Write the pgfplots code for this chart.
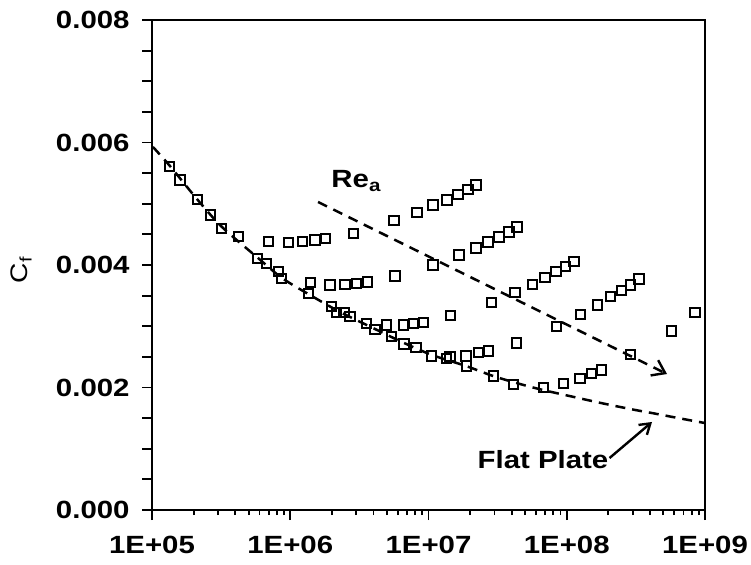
\documentclass[border=0pt]{standalone}
\usepackage{pgfplots}
\pgfplotsset{compat=1.18}
\usepackage{pgfplotstable}
\usepackage{fontspec}
\setmainfont{Liberation Sans}[FakeStretch=1.18]
\usetikzlibrary{arrows.meta}

\pgfplotstableread{
x y
1.334e5 0.005605
1.594e5 0.005388
2.127e5 0.005073
2.658e5 0.004816
3.193e5 0.004599
4.238e5 0.004462
5.777e5 0.004110
6.755e5 0.004028
8.196e5 0.003891
8.673e5 0.003783
6.937e5 0.004381
9.680e5 0.004371
1.223e6 0.004381
1.510e6 0.004408
1.805e6 0.004436
1.351e6 0.003538
1.406e6 0.003711
1.939e6 0.003674
2.489e6 0.003685
3.025e6 0.003701
3.608e6 0.003723
2.858e6 0.004518
5.629e6 0.004723
8.256e6 0.004861
1.078e7 0.004980
1.361e7 0.005061
1.635e7 0.005154
1.931e7 0.005236
2.206e7 0.005306
5.723e6 0.003821
1.078e7 0.004000
1.662e7 0.004163
2.206e7 0.004278
2.694e7 0.004376
3.236e7 0.004457
3.822e7 0.004539
4.367e7 0.004621
1.447e7 0.003172
2.866e7 0.003385
4.223e7 0.003548
5.634e7 0.003685
6.961e7 0.003799
8.363e7 0.003891
9.827e7 0.003972
1.129e8 0.004054
1.995e6 0.003319
2.168e6 0.003221
2.448e6 0.003228
2.705e6 0.003156
3.573e6 0.003048
4.102e6 0.002950
4.985e6 0.003020
5.418e6 0.002830
6.572e6 0.003020
7.765e6 0.003048
9.172e6 0.003065
6.649e6 0.002710
8.121e6 0.002653
1.055e7 0.002514
1.354e7 0.002477
1.431e7 0.002503
1.867e7 0.002514
1.889e7 0.002351
2.292e7 0.002575
2.708e7 0.002596
4.345e7 0.002727
2.942e7 0.002188
4.106e7 0.002052
6.768e7 0.001997
9.443e7 0.002069
1.247e8 0.002150
1.515e8 0.002232
1.790e8 0.002286
8.460e7 0.002993
1.262e8 0.003195
1.663e8 0.003347
2.079e8 0.003483
2.498e8 0.003581
2.901e8 0.003674
3.332e8 0.003772
2.891e8 0.002539
5.743e8 0.002922
8.467e8 0.003228
}\measured

\pgfplotstableread{
x y
1.016e5 0.005927
1.349e5 0.005616
2.113e5 0.005078
3.206e5 0.004621
5.848e5 0.004114
8.710e5 0.003788
1.390e6 0.003510
2.291e6 0.003233
4.102e6 0.002955
6.653e6 0.002727
1.059e7 0.002531
1.866e7 0.002351
2.931e7 0.002188
4.592e7 0.002057
6.730e7 0.001959
1.005e8 0.001870
1.742e8 0.001750
3.013e8 0.001640
4.207e8 0.001580
6.266e8 0.001505
9.977e8 0.001420
}\flatplate

\pgfplotstableread{
x y
1.588e6 0.005029
5.312e8 0.002220
}\rea

\begin{document}
\begin{tikzpicture}
\begin{axis}[
  scale only axis,
  width=553bp, height=490bp,
  xmode=log,
  xmin=1e5, xmax=1e9,
  ymin=0, ymax=0.008,
  scaled y ticks=false,
  axis line style={line width=2.2bp},
  xtick={1e5,1e6,1e7,1e8,1e9},
  xticklabels={1E+05,1E+06,1E+07,1E+08,1E+09},
  ytick={0,0.0005,0.001,0.0015,0.002,0.0025,0.003,0.0035,0.004,0.0045,0.005,0.0055,0.006,0.0065,0.007,0.0075,0.008},
  yticklabels={0.000,,,,0.002,,,,0.004,,,,0.006,,,,0.008},
  tick align=outside,
  xtick pos=lower, ytick pos=left,
  major tick length=10bp, minor tick length=5bp,
  every tick/.style={black, line width=1.8bp},
  ticklabel style={font=\bfseries\fontsize{25}{30}\selectfont},
  /pgf/number format/assume math mode=true,
  xticklabel style={yshift=-13bp},
  yticklabel style={xshift=-9bp},
  ylabel={C\textsubscript{f}},
  ylabel style={font=\fontsize{24}{29}\selectfont, at={(rel axis cs:-0.236,0.49)}, anchor=center},
  clip=false,
]
\addplot[black, line width=2.5bp, dash pattern=on 10bp off 7bp, smooth] table {\flatplate};
\addplot[black, line width=2.5bp, dash pattern=on 10bp off 7bp, -{Straight Barb[length=12bp,width=17bp,line width=2.4bp]}] table {\rea};
\addplot[only marks, mark=square, mark size=4.7bp, mark options={black, line width=2bp, fill=none}] table {\measured};
\node[font=\bfseries\fontsize{25}{30}\selectfont, inner sep=0pt] (fp) at (axis cs:6.734e7,0.000816) {Flat Plate};
\draw[black, line width=2.4bp, -{Straight Barb[length=10bp,width=13bp,line width=2.4bp]}] ([xshift=1bp,yshift=2bp]fp.east) -- (axis cs:4.137e8,0.001437);
\node[font=\bfseries\fontsize{25}{30}\selectfont, inner sep=0pt] at (axis cs:3.0e6,0.005370) {Re\textsubscript{a}};
\coordinate (sw) at (rel axis cs:0,0);
\end{axis}
\pgfresetboundingbox
\path (sw) ++(-152bp,-55bp) rectangle ++(751bp,565bp);
\end{tikzpicture}
\end{document}
